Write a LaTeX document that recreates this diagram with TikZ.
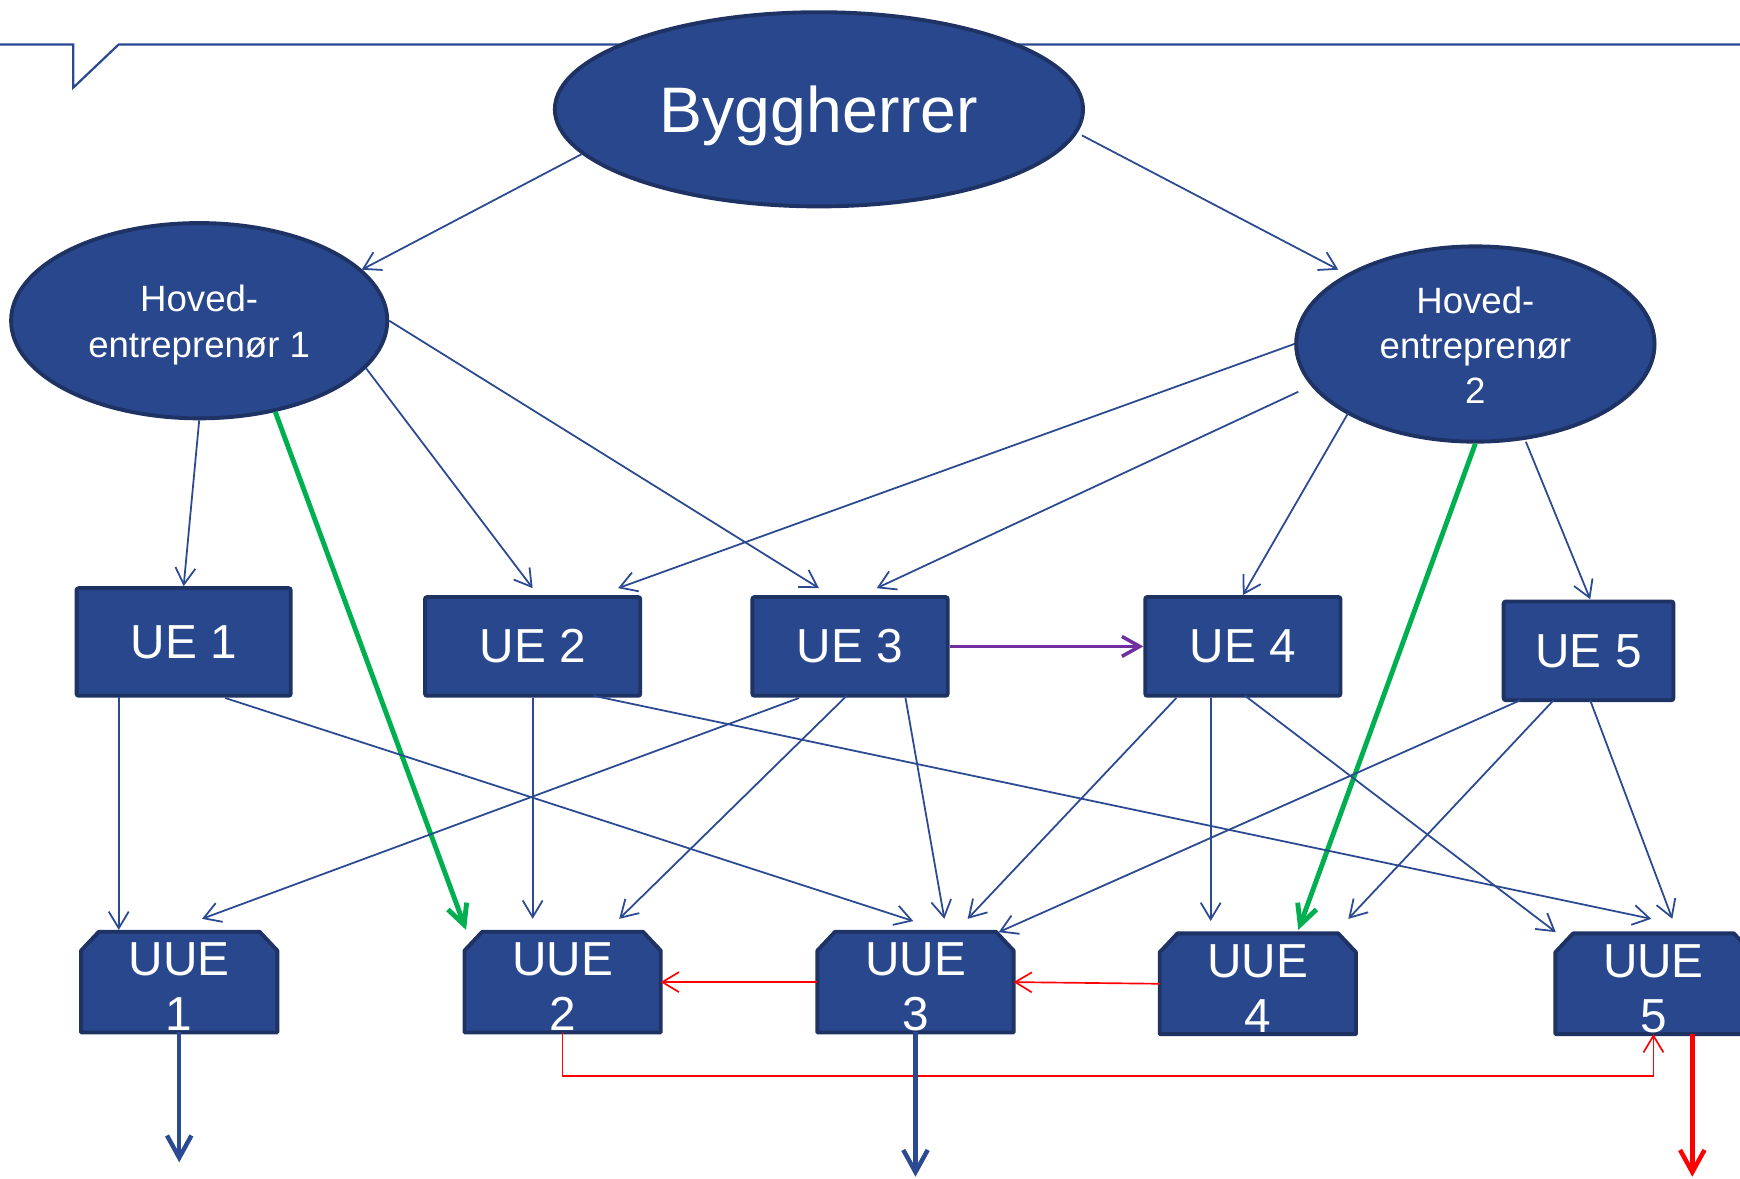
\documentclass[tikz,border=0pt]{standalone}
\usepackage{fontspec}
\setmainfont{Liberation Sans}
\usetikzlibrary{shapes.geometric,arrows.meta,calc}
\definecolor{boxfill}{RGB}{41,71,140}
\definecolor{boxline}{RGB}{30,50,100}
\definecolor{connc}{RGB}{43,74,145}
\definecolor{grn}{RGB}{0,176,80}
\definecolor{pur}{RGB}{112,48,160}
\definecolor{rd}{RGB}{255,0,0}
\tikzset{
 ell/.style={ellipse, fill=boxfill, draw=boxline, line width=1.75pt, text=white, inner sep=0pt, align=center},
 hetext/.style={text=white, inner sep=0pt, align=center, font=\fontsize{16.5}{20.4}\selectfont},
 uebox/.style={rectangle, fill=boxfill, draw=boxline, line width=1.75pt, text=white, inner sep=0pt, rounded corners=1pt, font=\fontsize{21.5}{26}\selectfont, minimum height=44.5pt},
 uuebase/.style={rectangle, draw=none, inner sep=0pt, minimum width=88pt, minimum height=45pt},
 uueshape/.style={fill=boxfill, draw=boxline, line width=1.75pt, line join=round},
 uuetext/.style={text=white, inner sep=0pt, font=\fontsize{21.5}{26}\selectfont, anchor=base},
 conn/.style={draw=connc, line width=0.8pt, -{Straight Barb[length=7.5pt,width=9pt]}},
 greenarr/.style={draw=grn, line width=2.2pt, -{Straight Barb[length=9pt,width=9pt]}},
 purarr/.style={draw=pur, line width=1.6pt, -{Straight Barb[length=8pt,width=9pt]}},
 redthin/.style={draw=rd, line width=0.75pt, -{Straight Barb[length=7.5pt,width=9pt]}},
 downarr/.style={draw=connc, line width=2pt, -{Straight Barb[length=10pt,width=11pt]}},
 reddown/.style={draw=rd, line width=2pt, -{Straight Barb[length=10pt,width=11pt]}},
 topline/.style={draw=connc, line width=1pt},
}
\newcommand{\uuebox}[4]{%
  \node[uuebase] (#1) at (#2,#3) {};
  \filldraw[uueshape] ($(#1.north west)+(16,0)$) -- ($(#1.north east)+(-16,0)$) -- ($(#1.north east)+(0,17)$) -- (#1.south east) -- (#1.south west) -- ($(#1.north west)+(0,17)$) -- cycle;
  \node[uuetext] (#1a) at ($(#1.center)+(0,-6)$) {UUE};
  \node[uuetext] (#1b) at ($(#1.center)+(0,44)$) {#4};
}
\begin{document}
\begin{tikzpicture}[x=0.5pt,y=-0.5pt]
\useasboundingbox (0,0) rectangle (1568,1062);
\clip (0,0) rectangle (1568,1062);
\fill[white] (0,0) rectangle (1568,1062);
\draw[topline] (0,40) -- (66,40) -- (66,79) -- (107,40) -- (1568,40);

% ellipses
\node[ell, minimum width=238pt, minimum height=87.5pt, font=\fontsize{29}{35}\selectfont, text depth=0pt] (B) at (738,98.5) {Byggherrer};
\node[ell, minimum width=169.5pt, minimum height=88pt] (HE1) at (179.5,289) {};
\node[hetext] (HE1t) at ($(HE1.center)+(0,4)$) {Hoved-\\entreprenør 1};
\node[ell, minimum width=161.5pt, minimum height=88pt] (HE2) at (1329.5,310) {};
\node[hetext] (HE2t) at ($(HE2.center)+(0,1)$) {Hoved-\\entreprenør\\2};

% UE boxes
\node[uebox, minimum width=96.5pt, minimum height=48.5pt] (UE1) at (165.5,578.5) {UE 1};
\node[uebox, minimum width=97pt] (UE2) at (480,582.5) {UE 2};
\node[uebox, minimum width=88pt] (UE3) at (766,582.5) {UE 3};
\node[uebox, minimum width=88pt] (UE4) at (1120,582.5) {UE 4};
\node[uebox, minimum width=76.5pt] (UE5) at (1431.5,586.5) {UE 5};

% UUE boxes
\uuebox{UUE1}{161.5}{885}{1}
\uuebox{UUE2}{507}{885}{2}
\uuebox{UUE3}{825}{885}{3}
\uuebox{UUE4}{1133.5}{886.5}{4}
\uuebox{UUE5}{1490}{886.5}{5}

% connectors from Byggherrer
\draw[conn] ($(B.center)+(-214,40.5)$) -- ($(HE1.center)+(146.5,-46)$);
\draw[conn] ($(B.center)+(237,23.5)$) -- ($(HE2.center)+(-123.5,-67)$);

% from Hovedentreprenør 1
\draw[conn] (HE1.south) -- (UE1.north);
\draw[conn] ($(HE1.center)+(150.5,43)$) -- ($(UE2.center)+(0,-52.5)$);
\draw[conn] (HE1.east) -- ($(UE3.center)+(-28,-52.5)$);
\draw[greenarr] ($(HE1.center)+(68.5,82)$) -- ($(UUE2.center)+(-87,-47)$);

% from Hovedentreprenør 2
\draw[conn] (HE2.west) -- ($(UE2.center)+(77,-52.5)$);
\draw[conn] ($(HE2.center)+(-159.5,43)$) -- ($(UE3.center)+(24,-52.5)$);
\draw[conn] ($(HE2.center)+(-114.5,62)$) -- (UE4.north);
\draw[conn] ($(HE2.center)+(45.5,88)$) -- ($(UE5.center)+(1.5,-46.5)$);
\draw[greenarr] (HE2.south) -- ($(UUE4.center)+(36.5,-48.5)$);

% from UE boxes
\draw[conn] ($(UE1.center)+(-58.5,49.5)$) -- ($(UUE1.center)+(-54.5,-47)$);
\draw[conn] ($(UE1.center)+(37.5,50.5)$) -- ($(UUE3.center)+(-2,-55)$);
\draw[conn] (UE2.south) -- ($(UUE2.center)+(-27,-57)$);
\draw[conn] ($(UE2.center)+(55,44.5)$) -- ($(UUE5.center)+(-2,-58.5)$);
\draw[conn] ($(UE3.center)+(-46,46.5)$) -- ($(UUE1.center)+(20.5,-57)$);
\draw[conn] ($(UE3.center)+(-3,44.5)$) -- ($(UUE2.center)+(51,-57)$);
\draw[conn] ($(UE3.center)+(50,46.5)$) -- ($(UUE3.center)+(26,-57)$);
\draw[purarr] (UE3.east) -- (UE4.west);
\draw[conn] ($(UE4.center)+(-60,46.5)$) -- ($(UUE3.center)+(47,-57)$);
\draw[conn] ($(UE4.center)+(-29,46.5)$) -- ($(UUE4.center)+(-42.5,-56.5)$);
\draw[conn] ($(UE4.center)+(2,44.5)$) -- ($(UUE5.center)+(-88,-46.5)$);
\draw[conn] ($(UE5.center)+(-61.5,44.5)$) -- ($(UUE3.center)+(75,-45)$);
\draw[conn] ($(UE5.center)+(-31.5,44.5)$) -- ($(UUE4.center)+(81.5,-58.5)$);
\draw[conn] ($(UE5.center)+(1.5,44.5)$) -- ($(UUE5.center)+(17,-58.5)$);

% red connectors between UUE
\draw[redthin] (UUE3.west) -- (UUE2.east);
\draw[redthin] (UUE4.west) -- (UUE3.east);
\draw[redthin] (UUE2.south) -- ($(UUE2.south)+(0,39)$) -| (UUE5.south);

% outgoing arrows
\coordinate (d1) at ($(UUE1.south)+(0,117)$);
\coordinate (d3) at ($(UUE3.south)+(0,130)$);
\coordinate (d5s) at ($(UUE5.south)+(35,0)$);
\coordinate (d5) at ($(UUE5.south)+(35,128.5)$);
\draw[downarr] (UUE1.south) -- (d1);
\draw[downarr] (UUE3.south) -- (d3);
\draw[reddown] (d5s) -- (d5);
\end{tikzpicture}
\end{document}
